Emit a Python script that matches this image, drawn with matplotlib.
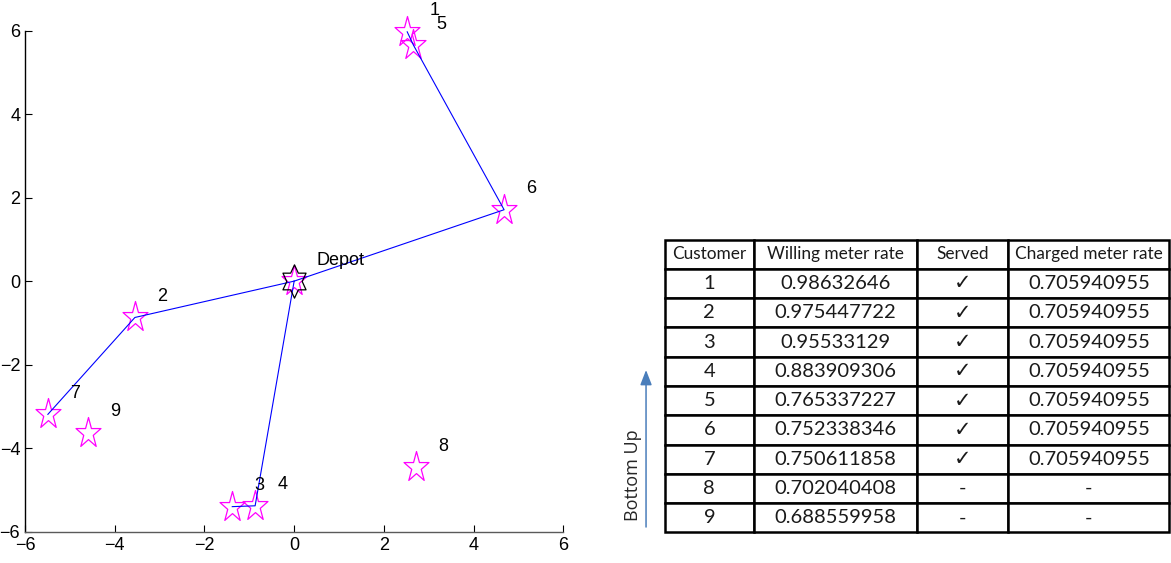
import numpy as np
import matplotlib
matplotlib.use("Agg")
import matplotlib.pyplot as plt
from matplotlib.path import Path
from matplotlib.patches import FancyArrowPatch

# Customer locations and routes
customer_ids = [1, 2, 3, 4, 5, 6, 7, 8, 9]
cust_x = [2.52, -3.55, -1.38, -0.87, 2.66, 4.68, -5.49, 2.71, -4.60]
cust_y = [5.97, -0.87, -5.40, -5.38, 5.65, 1.71, -3.19, -4.46, -3.63]
depot_x, depot_y = 0.0, 0.0
routes = [[6, 5, 1], [2, 7], [4, 3]]
axis_ticks = [-6, -4, -2, 0, 2, 4, 6]

# Pricing table
table_header = ["Customer", "Willing meter rate", "Served", "Charged meter rate"]
willing_rate = [0.98632646, 0.975447722, 0.95533129, 0.883909306, 0.765337227,
                0.752338346, 0.750611858, 0.702040408, 0.688559958]
served = [True, True, True, True, True, True, True, False, False]
charged_rate = [0.705940955] * 7 + [None, None]

plt.rcParams["font.family"] = ["Liberation Sans", "DejaVu Sans"]


def star_path(points, inner, xscale):
    n = 2 * points
    ang = np.pi / 2 + np.arange(n) * np.pi / points
    r = np.where(np.arange(n) % 2 == 0, 1.0, inner)
    verts = np.column_stack([xscale * r * np.cos(ang), r * np.sin(ang)])
    verts = np.vstack([verts, verts[:1]])
    codes = [Path.MOVETO] + [Path.LINETO] * (n - 1) + [Path.CLOSEPOLY]
    return Path(verts, codes)


pentagram = star_path(5, 0.381966, 0.82)
hexagram = star_path(6, 1 / np.sqrt(3), 0.80)

fig = plt.figure(figsize=(11.71, 5.63), dpi=100)
ax = fig.add_axes([0.02135, 0.0556, 0.4597, 0.8901])

# customers (and depot) as magenta stars
ax.plot(cust_x + [depot_x], cust_y + [depot_y], linestyle="none", marker=pentagram,
        ms=23, mfc="none", mec="#FF00FF", mew=0.9, clip_on=False)

for route in routes:
    xs = [depot_x] + [cust_x[c - 1] for c in route]
    ys = [depot_y] + [cust_y[c - 1] for c in route]
    ax.plot(xs, ys, color="#0000FF", lw=0.8, clip_on=False)

ax.plot([depot_x], [depot_y], linestyle="none", marker=hexagram, ms=24,
        mfc="none", mec="black", mew=0.9, clip_on=False)

for cid, x, y in zip(customer_ids, cust_x, cust_y):
    ax.text(x + 0.5, y + 0.5, str(cid), fontsize=13, ha="left", va="center",
            clip_on=False)
ax.text(depot_x + 0.5, depot_y + 0.5, "Depot", fontsize=13, ha="left",
        va="center", clip_on=False)

ax.set_xlim(-6, 6)
ax.set_ylim(-6, 6)
ax.set_xticks(axis_ticks)
ax.set_yticks(axis_ticks)
ax.tick_params(direction="in", length=5, width=0.8, labelsize=13, pad=3.5)
ax.spines["top"].set_visible(False)
ax.spines["right"].set_visible(False)
ax.spines["bottom"].set_color("#5a5a5a")
ax.spines["left"].set_color("black")
ax.spines["bottom"].set_linewidth(1.0)
ax.spines["left"].set_linewidth(1.0)

# table of rates
tax = fig.add_axes([0.5675, 0.0542, 0.4312, 0.5204])
tax.axis("off")
rows = []
for cid, w, s, c in zip(customer_ids, willing_rate, served, charged_rate):
    rows.append([str(cid), str(w), "\u2713" if s else "-",
                 str(c) if c is not None else "-"])
col_px = [89.5, 163, 91, 161]
col_w = [v / sum(col_px) for v in col_px]
tbl = tax.table(cellText=rows, colLabels=table_header, colWidths=col_w,
                cellLoc="center", bbox=[0, 0, 1, 1])
tbl.auto_set_font_size(False)
tbl.set_fontsize(14.5)
for (r, c), cell in tbl.get_celld().items():
    cell.set_linewidth(1.8)
    cell.set_edgecolor("black")
    txt = cell.get_text()
    txt.set_color("#1a1a1a")
    if txt.get_text() == "\u2713":
        txt.set_fontfamily(["DejaVu Sans"])
        txt.set_fontsize(15)
    else:
        txt.set_fontfamily(["Lato", "DejaVu Sans"])
    if r == 0:
        txt.set_fontsize(12.4)

# direction arrow beside the table
arrow = FancyArrowPatch((0.5517, 0.0639), (0.5517, 0.3428),
                        transform=fig.transFigure,
                        arrowstyle="-|>,head_length=0.9,head_width=0.35",
                        mutation_scale=10, lw=1.1, color="#4a7ebb",
                        shrinkA=0, shrinkB=0)
fig.add_artist(arrow)
fig.text(0.5406, 0.1563, "Bottom Up", rotation=90, ha="center", va="center",
         fontsize=13, family=["Open Sans", "DejaVu Sans"], color="#262626")

fig.savefig("out.png", dpi=100)
